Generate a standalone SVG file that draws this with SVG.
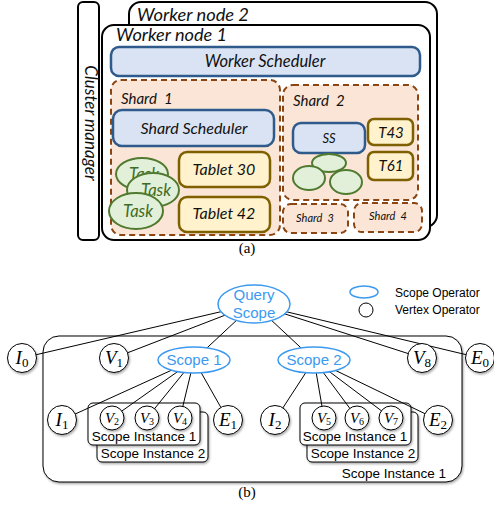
<svg xmlns="http://www.w3.org/2000/svg" width="494" height="508" viewBox="0 0 494 508">
<defs>
<filter id="sh" x="-20%" y="-20%" width="150%" height="150%"><feDropShadow dx="1" dy="1.5" stdDeviation="0.8" flood-color="#000" flood-opacity="0.35"/></filter>
</defs>
<style>
.wn{fill:#fff;stroke:#000;stroke-width:2}
.lbl{font-family:Lato,"Open Sans",sans-serif;font-style:italic;fill:#111}
.sched{fill:#dae3f3;stroke:#2f5b8c;stroke-width:2.5}
.shard{fill:#fbe5d6;stroke:#8b4513;stroke-width:2;stroke-dasharray:6 4}
.tab{fill:#fff2cc;stroke:#7f6000;stroke-width:2.5}
.task{fill:#e2f0d9;stroke:#4f7a2f;stroke-width:2}
.tasktxt{fill:#3f6b25}
.edge{stroke:#000;stroke-width:1;fill:none}
.scope{fill:#fff;stroke:#3c99f0;stroke-width:1.5}
.stxt{font-family:"Liberation Sans",Arial,sans-serif;fill:#3c99f0;font-size:15px;text-anchor:middle}
.v{fill:#fff;stroke:#000;stroke-width:1;filter:url(#sh)}
.m{font-family:"Liberation Serif","Times New Roman",serif;font-style:italic;text-anchor:middle;fill:#000}
.sub{font-style:normal}
.box{fill:#fff;stroke:#000;stroke-width:1;filter:url(#sh)}
.sans{font-family:"Liberation Sans",Arial,sans-serif;fill:#000}
.cap{font-family:"Liberation Serif","Times New Roman",serif;font-size:15px;text-anchor:middle;fill:#000}
</style>

<!-- (a) -->
<g id="worker2"><rect class="wn" x="129" y="2" width="308" height="225" rx="12"/>
<text class="lbl" x="137" y="21" font-size="17" textLength="112" lengthAdjust="spacingAndGlyphs">Worker node 2</text></g>
<g id="worker1"><rect class="wn" x="102" y="25" width="328" height="215" rx="12"/>
<text class="lbl" x="116" y="41" font-size="17" textLength="111" lengthAdjust="spacingAndGlyphs">Worker node 1</text></g>
<g id="cluster"><rect class="wn" x="78" y="2" width="21" height="238" rx="5"/>
<text class="lbl" transform="translate(85,123) rotate(90)" text-anchor="middle" font-size="17">Cluster manager</text></g>
<g id="workersched"><rect class="sched" x="111" y="47" width="309" height="29" rx="8"/>
<text class="lbl" x="265" y="67" text-anchor="middle" font-size="16.5">Worker Scheduler</text></g>

<g id="shard1"><rect class="shard" x="111" y="80" width="169" height="155" rx="10"/>
<text class="lbl" x="121" y="104" font-size="15" xml:space="preserve">Shard  1</text></g>
<g id="shardsched"><rect class="sched" x="113" y="110" width="161" height="36" rx="9"/>
<text class="lbl" x="194" y="134" text-anchor="middle" font-size="16">Shard Scheduler</text></g>
<g id="task1"><ellipse class="task" cx="142" cy="174" rx="26" ry="16"/>
<text class="lbl tasktxt" x="144" y="180" text-anchor="middle" font-size="16.5">Task</text></g>
<g id="task2"><ellipse class="task" cx="153" cy="190" rx="26" ry="17"/>
<text class="lbl tasktxt" x="156" y="196" text-anchor="middle" font-size="16.5">Task</text></g>
<g id="task3"><ellipse class="task" cx="136" cy="211" rx="27" ry="18"/>
<text class="lbl tasktxt" x="138" y="217" text-anchor="middle" font-size="16.5">Task</text></g>
<g id="tablet30"><rect class="tab" x="179" y="152" width="91" height="35" rx="8"/>
<text class="lbl" x="224" y="175" text-anchor="middle" font-size="16">Tablet 30</text></g>
<g id="tablet42"><rect class="tab" x="179" y="197" width="91" height="35" rx="8"/>
<text class="lbl" x="224" y="219" text-anchor="middle" font-size="16">Tablet 42</text></g>

<g id="shard2"><rect class="shard" x="283" y="85" width="135" height="115" rx="10"/>
<text class="lbl" x="293" y="106" font-size="15" xml:space="preserve">Shard  2</text></g>
<g id="ss"><rect class="sched" x="293" y="123" width="72" height="30" rx="8"/>
<text class="lbl" x="329" y="143" text-anchor="middle" font-size="13">SS</text></g>
<g id="t43"><rect class="tab" x="368" y="119" width="45" height="26" rx="6"/>
<text class="lbl" x="391" y="138" text-anchor="middle" font-size="15">T43</text></g>
<g id="t61"><rect class="tab" x="368" y="152" width="45" height="28" rx="6"/>
<text class="lbl" x="391" y="171" text-anchor="middle" font-size="15">T61</text></g>
<g id="tasks2">
<ellipse class="task" cx="329" cy="163" rx="17" ry="9"/>
<ellipse class="task" cx="309" cy="178" rx="16" ry="12"/>
<ellipse class="task" cx="346" cy="182" rx="16" ry="12"/>
</g>
<g id="shard3"><rect class="shard" x="283" y="204" width="65" height="29" rx="8"/>
<text class="lbl" x="315" y="222" text-anchor="middle" font-size="11" xml:space="preserve">Shard  3</text></g>
<g id="shard4"><rect class="shard" x="354" y="203" width="68" height="29" rx="8"/>
<text class="lbl" x="388" y="220" text-anchor="middle" font-size="11" xml:space="preserve">Shard  4</text></g>
<text class="cap" x="247" y="253">(a)</text>

<!-- (b) -->
<g id="instance-outer"><rect class="box" x="43" y="336" width="419" height="146" rx="16"/>
<text class="sans" x="446" y="478" font-size="13.5" text-anchor="end">Scope Instance 1</text></g>
<g id="inst-left-2"><rect class="box" x="97" y="412" width="111" height="50" rx="5"/>
<text class="sans" x="153" y="458" font-size="13.5" text-anchor="middle">Scope Instance 2</text></g>
<g id="inst-left-1"><rect class="box" x="88" y="403" width="112" height="42" rx="5"/>
<text class="sans" x="144" y="441" font-size="13.5" text-anchor="middle">Scope Instance 1</text></g>
<g id="inst-right-2"><rect class="box" x="307" y="412" width="111" height="50" rx="5"/>
<text class="sans" x="363" y="458" font-size="13.5" text-anchor="middle">Scope Instance 2</text></g>
<g id="inst-right-1"><rect class="box" x="300" y="403" width="111" height="42" rx="5"/>
<text class="sans" x="355" y="441" font-size="13.5" text-anchor="middle">Scope Instance 1</text></g>

<g id="connectors">
<path class="edge" d="M254 304L22 358M254 304L114 358M254 304L194 360M254 304L314 360M254 304L422 358M254 304L480 358"/>
<path class="edge" d="M194 360L62 420M194 360L112 418M194 360L147 418M194 360L180 418M194 360L228 420"/>
<path class="edge" d="M314 360L275 420M314 360L324 418M314 360L357 418M314 360L391 418M314 360L438 420"/>
</g>

<g id="queryscope"><ellipse class="scope" cx="254" cy="304" rx="36" ry="19"/>
<text class="stxt" x="254" y="300">Query</text><text class="stxt" x="254" y="318">Scope</text></g>
<g id="scope1"><ellipse class="scope" cx="194" cy="360" rx="36" ry="13"/>
<text class="stxt" x="194" y="365">Scope 1</text></g>
<g id="scope2"><ellipse class="scope" cx="314" cy="360" rx="36" ry="13"/>
<text class="stxt" x="314" y="365">Scope 2</text></g>

<g id="I0"><circle class="v" cx="22" cy="358" r="14.5"/><text class="m" x="22" y="364" font-size="19">I<tspan class="sub" font-size="13" dy="3">0</tspan></text></g>
<g id="V1"><circle class="v" cx="114" cy="358" r="14.5"/><text class="m" x="114" y="364" font-size="19">V<tspan class="sub" font-size="13" dy="3">1</tspan></text></g>
<g id="V8"><circle class="v" cx="422" cy="358" r="14.5"/><text class="m" x="422" y="364" font-size="19">V<tspan class="sub" font-size="13" dy="3">8</tspan></text></g>
<g id="E0"><circle class="v" cx="480" cy="358" r="14.5"/><text class="m" x="480" y="364" font-size="19">E<tspan class="sub" font-size="13" dy="3">0</tspan></text></g>
<g id="I1"><circle class="v" cx="62" cy="420" r="14.5"/><text class="m" x="62" y="426" font-size="19">I<tspan class="sub" font-size="13" dy="3">1</tspan></text></g>
<g id="E1"><circle class="v" cx="228" cy="420" r="14.5"/><text class="m" x="228" y="426" font-size="19">E<tspan class="sub" font-size="13" dy="3">1</tspan></text></g>
<g id="I2"><circle class="v" cx="275" cy="420" r="14.5"/><text class="m" x="275" y="426" font-size="19">I<tspan class="sub" font-size="13" dy="3">2</tspan></text></g>
<g id="E2"><circle class="v" cx="438" cy="420" r="14.5"/><text class="m" x="438" y="426" font-size="19">E<tspan class="sub" font-size="13" dy="3">2</tspan></text></g>
<g id="V2"><circle class="v" cx="112" cy="418" r="12"/><text class="m" x="112" y="423" font-size="15">V<tspan class="sub" font-size="10" dy="2">2</tspan></text></g>
<g id="V3"><circle class="v" cx="147" cy="418" r="12"/><text class="m" x="147" y="423" font-size="15">V<tspan class="sub" font-size="10" dy="2">3</tspan></text></g>
<g id="V4"><circle class="v" cx="180" cy="418" r="12"/><text class="m" x="180" y="423" font-size="15">V<tspan class="sub" font-size="10" dy="2">4</tspan></text></g>
<g id="V5"><circle class="v" cx="324" cy="418" r="12"/><text class="m" x="324" y="423" font-size="15">V<tspan class="sub" font-size="10" dy="2">5</tspan></text></g>
<g id="V6"><circle class="v" cx="357" cy="418" r="12"/><text class="m" x="357" y="423" font-size="15">V<tspan class="sub" font-size="10" dy="2">6</tspan></text></g>
<g id="V7"><circle class="v" cx="391" cy="418" r="12"/><text class="m" x="391" y="423" font-size="15">V<tspan class="sub" font-size="10" dy="2">7</tspan></text></g>

<g id="legend">
<ellipse class="scope" cx="364" cy="292" rx="14" ry="6"/>
<text class="sans" x="395" y="297" font-size="12">Scope Operator</text>
<circle fill="#fff" stroke="#000" stroke-width="1" cx="366" cy="310" r="7"/>
<text class="sans" x="395" y="314" font-size="12">Vertex Operator</text>
</g>
<text class="cap" x="247" y="497">(b)</text>
</svg>
